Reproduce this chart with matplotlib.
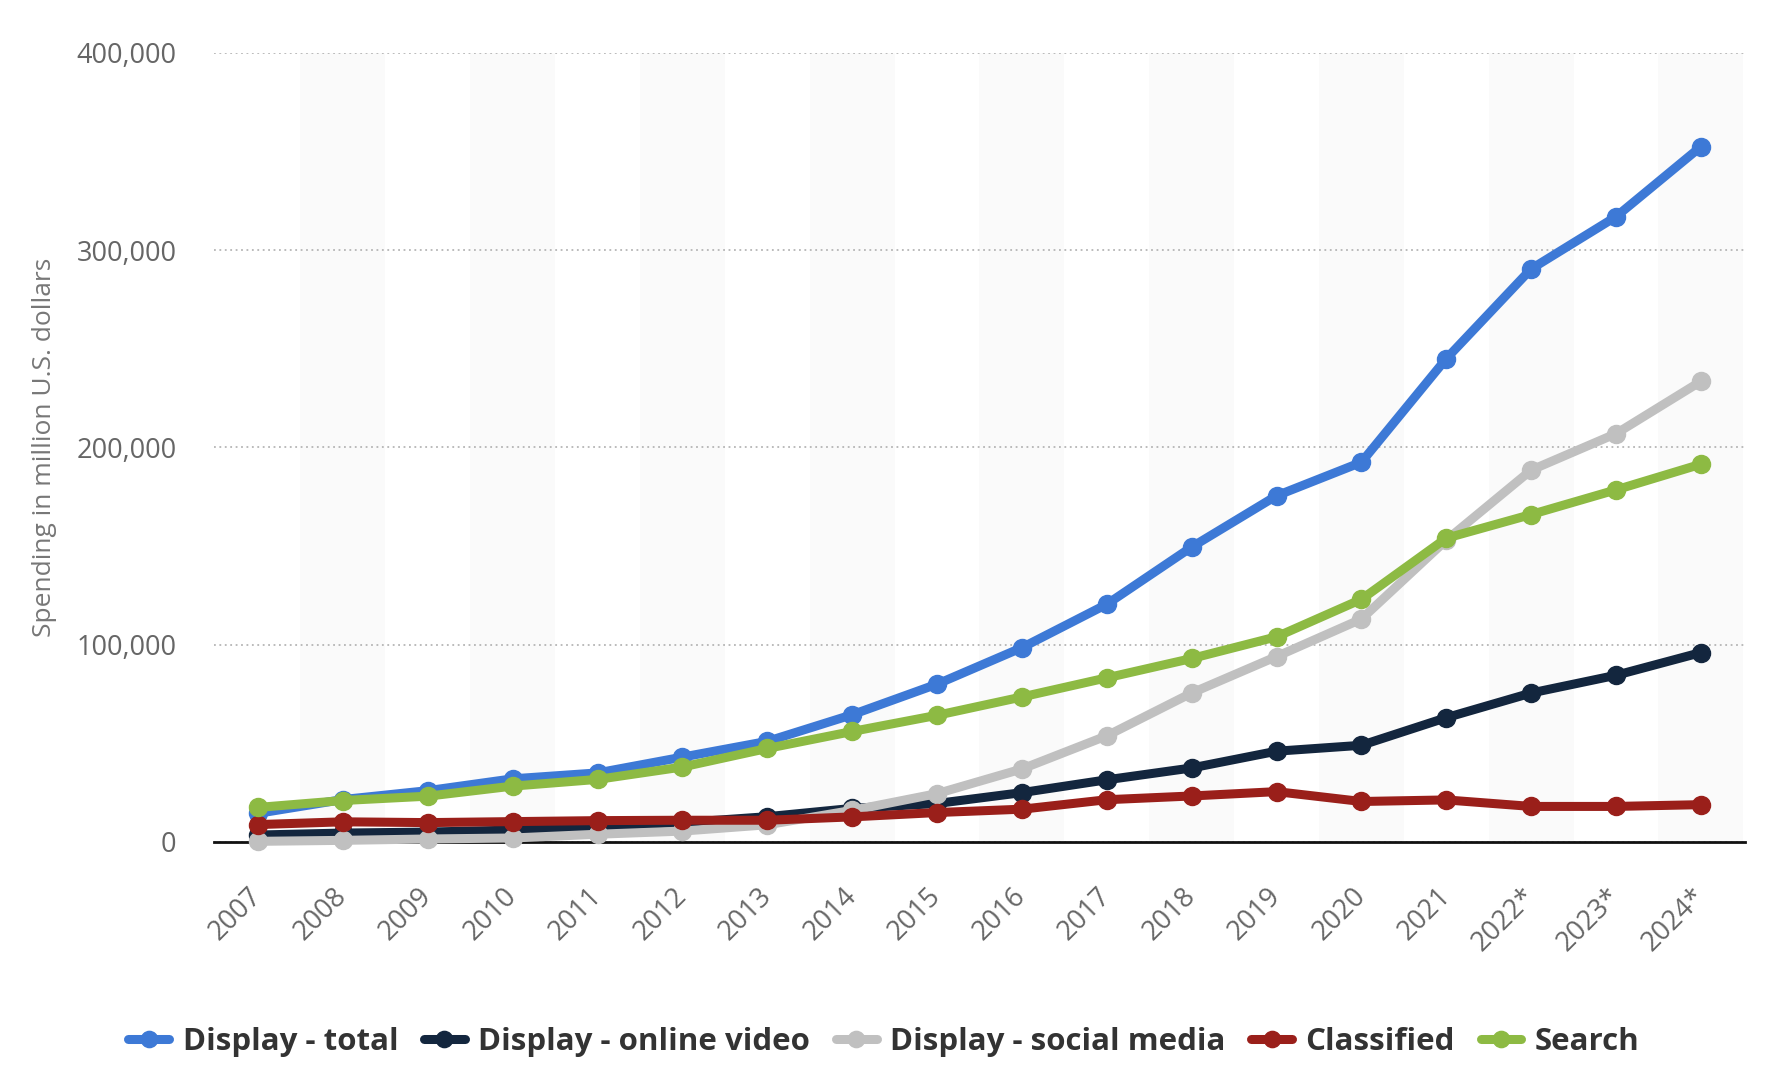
import matplotlib
matplotlib.use("Agg")
import matplotlib.pyplot as plt
import numpy as np

years = ["2007", "2008", "2009", "2010", "2011", "2012", "2013", "2014", "2015",
         "2016", "2017", "2018", "2019", "2020", "2021", "2022*", "2023*", "2024*"]

display_total = [14500, 21500, 26000, 32000, 35000, 43000, 51000, 64500, 80000,
                 98500, 120500, 149500, 175500, 192500, 245000, 290500, 317000, 352500]
display_video = [3500, 4500, 5000, 6000, 8000, 9800, 12800, 17000, 19500,
                 25000, 31500, 37500, 46000, 49000, 63000, 75500, 84500, 96000]
display_social = [300, 800, 1500, 2000, 3900, 5500, 8700, 16000, 24500,
                  37000, 53800, 75500, 94000, 113000, 153000, 188500, 207000, 233500]
classified = [8800, 10200, 9800, 10300, 10800, 11000, 11000, 12700, 14900,
              16600, 21400, 23300, 25500, 20500, 21300, 18000, 18000, 18900]
search = [17500, 21000, 23200, 28300, 31700, 38000, 47400, 56000, 64200,
          73500, 83200, 93000, 104000, 123000, 154000, 166000, 178500, 191500]

series = [
    ("Display - total", display_total, "#3d79d6"),
    ("Display - online video", display_video, "#13263e"),
    ("Display - social media", display_social, "#c0c0c0"),
    ("Classified", classified, "#9a1f1a"),
    ("Search", search, "#8dba43"),
]

fig = plt.figure(figsize=(17.68, 10.92), dpi=100)
ax = fig.add_axes([0.121, 0.229, 0.866, 0.7225])

x = np.arange(len(years))
for i in range(len(years)):
    if i % 2 == 1:
        ax.axvspan(i - 0.5, i + 0.5, color="#fafafa", zorder=0, lw=0)

for name, vals, col in series:
    ax.plot(x, vals, color=col, lw=6.5, marker="o", ms=13, label=name,
            solid_capstyle="round", solid_joinstyle="round", clip_on=False, zorder=3)

ax.set_xlim(-0.52, 17.52)
ax.set_ylim(0, 400000)
ax.set_yticks([0, 100000, 200000, 300000, 400000])
ax.set_yticklabels(["0", "100,000", "200,000", "300,000", "400,000"])
ax.yaxis.grid(True, linestyle=(0, (1, 2)), color="#b5b5b5", lw=1.3)
ax.set_axisbelow(True)

for s in ["top", "right", "left"]:
    ax.spines[s].set_visible(False)
ax.spines["bottom"].set_color("#111111")
ax.spines["bottom"].set_linewidth(2)
ax.spines["bottom"].set_zorder(2)

ax.set_xticks(x)
ax.set_xticklabels(years, rotation=45, ha="right", va="center", rotation_mode="anchor")
ax.tick_params(axis="x", length=0, pad=36, labelsize=19.5, labelcolor="#666666")
ax.tick_params(axis="y", length=0, pad=27, labelsize=19.5, labelcolor="#666666")
for lbl in ax.get_xticklabels() + ax.get_yticklabels():
    lbl.set_fontfamily("Open Sans")

ax.set_ylabel("Spending in million U.S. dollars", fontsize=19, color="#777777",
              fontfamily="Open Sans", labelpad=14)

leg = fig.legend(loc="center", bbox_to_anchor=(0.5, 0.046), ncol=5, frameon=False,
                 prop={"family": "Open Sans", "weight": "bold", "size": 22.5},
                 handlelength=1.3, handletextpad=0.43, columnspacing=0.83,
                 markerscale=0.9)
for t in leg.get_texts():
    t.set_color("#333333")

fig.savefig("out.png", dpi=100, facecolor="white")
